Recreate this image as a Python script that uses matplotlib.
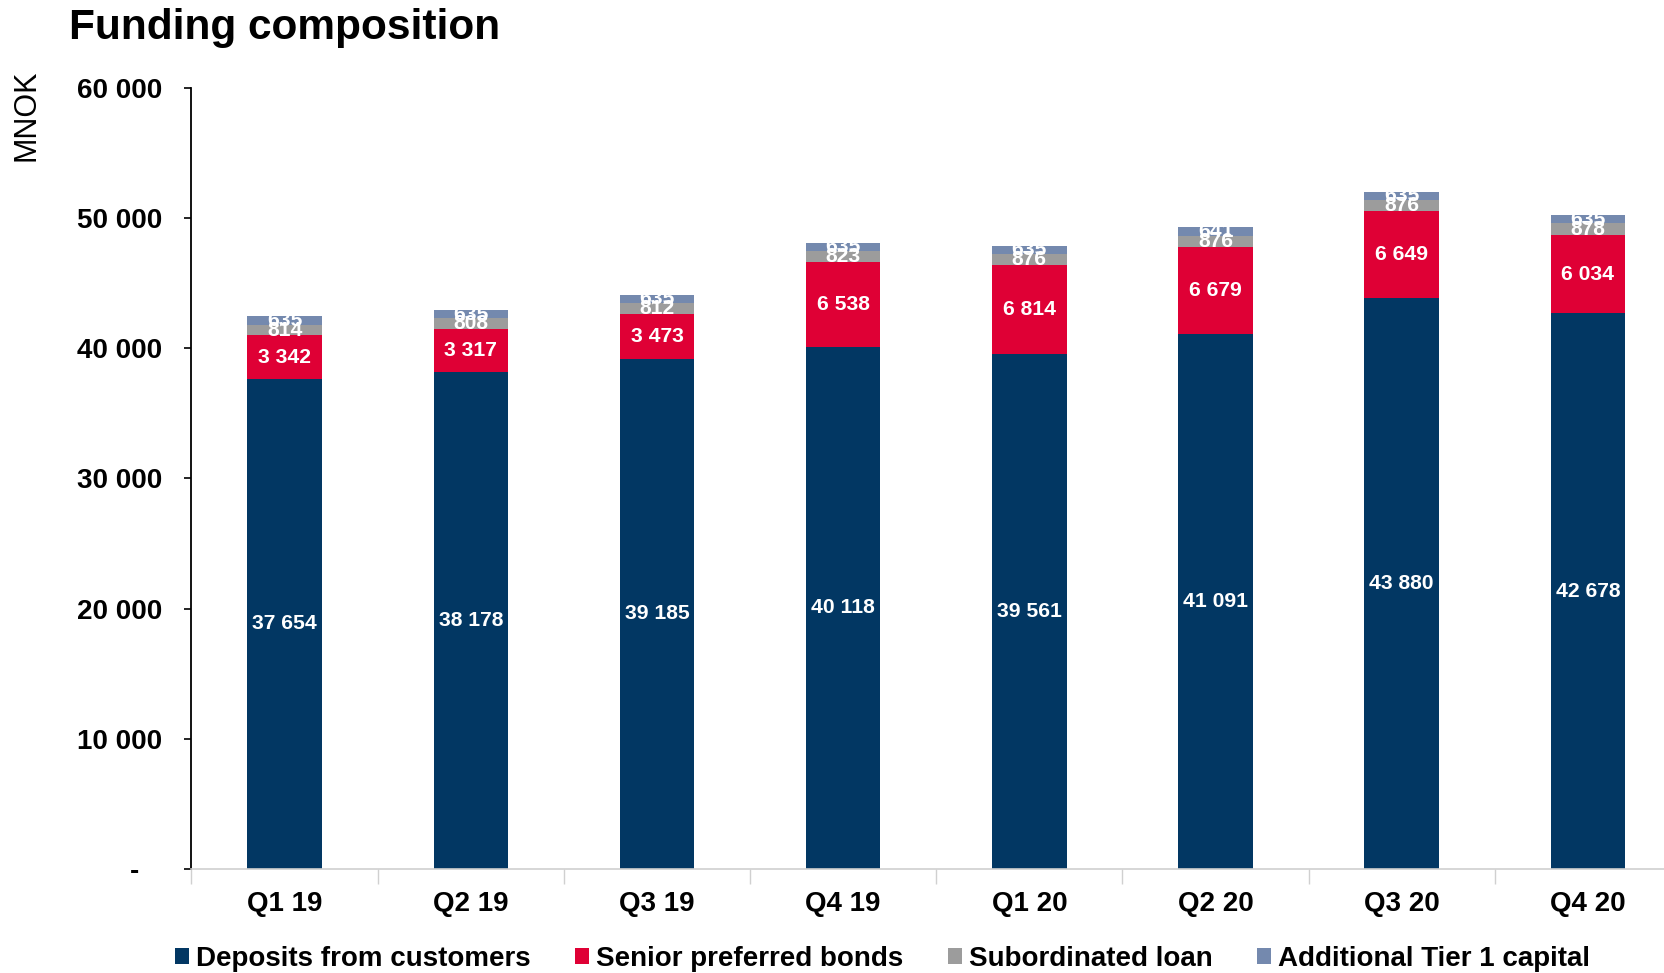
import matplotlib
matplotlib.use("Agg")
import matplotlib.pyplot as plt
import numpy as np

plt.rcParams['font.family'] = ['Liberation Sans', 'DejaVu Sans']

# data
quarters = ['Q1 19', 'Q2 19', 'Q3 19', 'Q4 19', 'Q1 20', 'Q2 20', 'Q3 20', 'Q4 20']
deposits = [37654, 38178, 39185, 40118, 39561, 41091, 43880, 42678]
senior = [3342, 3317, 3473, 6538, 6814, 6679, 6649, 6034]
subordinated = [814, 808, 812, 823, 876, 876, 876, 878]
at1 = [635, 635, 635, 635, 635, 641, 635, 635]

series = [
    ('Deposits from customers', deposits, '#023763'),
    ('Senior preferred bonds', senior, '#DF0035'),
    ('Subordinated loan', subordinated, '#9C9C9C'),
    ('Additional Tier 1 capital', at1, '#7489AE'),
]


def fmt(v):
    return f"{v:,}".replace(",", " ")


fig = plt.figure(figsize=(16.65, 9.73), dpi=100)
ax = fig.add_axes([0.115, 0.107, 0.8946, 0.8026])

x = np.arange(len(quarters))
bottom = np.zeros(len(quarters))
for name, vals, col in series:
    vals = np.array(vals)
    ax.bar(x, vals, 0.4, bottom=bottom, color=col, label=name, zorder=2)
    # white value labels in the middle of each segment
    for xi, b, v in zip(x, bottom, vals):
        ax.text(xi, b + v / 2, fmt(v), ha='center', va='center',
                color='white', fontsize=15.2, fontweight='bold', zorder=3)
    bottom = bottom + vals

ax.set_xlim(-0.5, 7.5)
ax.set_ylim(0, 60000)

yt = np.arange(0, 60001, 10000)
ax.set_yticks(yt)
ax.set_yticklabels(['-   '] + [fmt(v) for v in yt[1:]], fontsize=20, fontweight='bold')
ax.tick_params(axis='y', length=5, width=1.2, pad=16, color='black')

ax.set_xticks(x)
ax.set_xticklabels(quarters, fontsize=20, fontweight='bold')
ax.set_xticks(np.arange(-0.5, 7.6, 1), minor=True)
ax.tick_params(axis='x', which='major', length=0, pad=16)
ax.tick_params(axis='x', which='minor', length=11, width=1, color='#D0D0D0')

for s in ['top', 'right']:
    ax.spines[s].set_visible(False)
ax.spines['left'].set_color('black')
ax.spines['left'].set_linewidth(1.3)
ax.spines['bottom'].set_color('#D0D0D0')
ax.spines['bottom'].set_linewidth(1.2)

fig.text(0.0415, 0.96, 'Funding composition', fontsize=30.5, fontweight='bold', va='baseline')
fig.text(0.016, 0.882, 'MNOK', fontsize=22, rotation=90, ha='center', va='center')

fig.legend(loc='center left', bbox_to_anchor=(0.0987, 0.0145), ncol=4, frameon=False,
           prop={'size': 20, 'weight': 'bold'}, handlelength=0.5, handleheight=0.5,
           handletextpad=0.25, columnspacing=1.6, borderaxespad=0)

fig.savefig('out.png', dpi=100)
